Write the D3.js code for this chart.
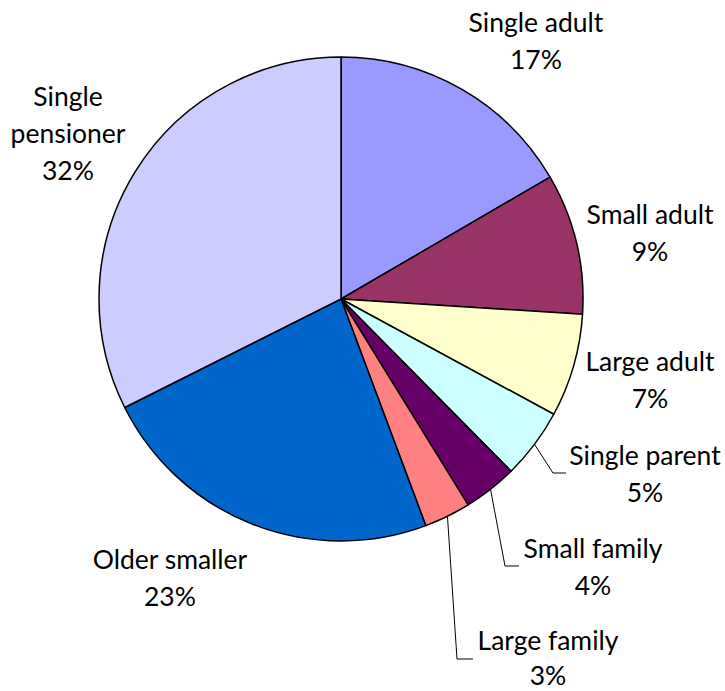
<!DOCTYPE html>
<html>
<head>
<meta charset="utf-8">
<script src="https://cdn.jsdelivr.net/npm/d3@7"></script>
<style>
  html, body { margin: 0; padding: 0; background: #fff; }
  svg { display: block; }
  text { font-family: Lato, "Open Sans", sans-serif; fill: #000; }
</style>
</head>
<body>
<svg id="chart" width="725" height="691"></svg>
<script>
// Household types and their share of all households (%)
const categories = [
  "Single adult", "Small adult", "Large adult", "Single parent",
  "Small family", "Large family", "Older smaller", "Single pensioner"
];
const shares = [16.6, 9.4, 6.9, 4.7, 3.6, 3.1, 23.3, 32.4];
const colors = [
  "#9999FF", "#993366", "#FFFFCC", "#CCFFFF",
  "#660066", "#FF8080", "#0066CC", "#CCCCFF"
];

// Label placement: centre x, first baseline y, optional wrap and leader elbow
const labelLayout = [
  { x: 536, y: 32 },
  { x: 650, y: 224 },
  { x: 650, y: 371 },
  { x: 645, y: 465, leader: { ex: 553, ey: 473, end: 566 } },
  { x: 593, y: 558, leader: { ex: 505, ey: 566, end: 519 } },
  { x: 548, y: 650, step: 35, leader: { ex: 457, ey: 659, end: 473 } },
  { x: 170, y: 569 },
  { x: 68, y: 106, wrap: true }
];

const cx = 341, cy = 299, radius = 242, lineStep = 37.2;

const svg = d3.select("#chart");
const g = svg.append("g").attr("transform", `translate(${cx},${cy})`);

const data = categories.map((name, i) => ({ name, value: shares[i], color: colors[i], layout: labelLayout[i] }));

const pie = d3.pie().value(d => d.value).sort(null);
const arc = d3.arc().innerRadius(0).outerRadius(radius);
const arcs = pie(data);

g.selectAll("path.slice")
  .data(arcs)
  .join("path")
  .attr("class", "slice")
  .attr("d", arc)
  .attr("fill", d => d.data.color)
  .attr("stroke", "#000")
  .attr("stroke-width", 1.5)
  .attr("stroke-linejoin", "round");

// Leader lines from slice edge to label
arcs.filter(d => d.data.layout.leader).forEach(d => {
  const mid = (d.startAngle + d.endAngle) / 2;
  const [px, py] = d3.pointRadial(mid, radius);
  const L = d.data.layout.leader;
  svg.append("polyline")
    .attr("points", `${cx + px},${cy + py} ${L.ex},${L.ey} ${L.end},${L.ey}`)
    .attr("fill", "none")
    .attr("stroke", "#000")
    .attr("stroke-width", 1);
});

// Category and percentage labels
arcs.forEach(d => {
  const lay = d.data.layout;
  const step = lay.step || lineStep;
  const nameLines = lay.wrap ? d.data.name.split(" ") : [d.data.name];
  const lines = nameLines.concat([Math.round(d.data.value) + "%"]);
  const t = svg.append("text")
    .attr("text-anchor", "middle")
    .attr("font-size", 26.5);
  lines.forEach((ln, k) => {
    t.append("tspan")
      .attr("x", lay.x)
      .attr("y", lay.y + k * step)
      .text(ln);
  });
});
</script>
</body>
</html>
